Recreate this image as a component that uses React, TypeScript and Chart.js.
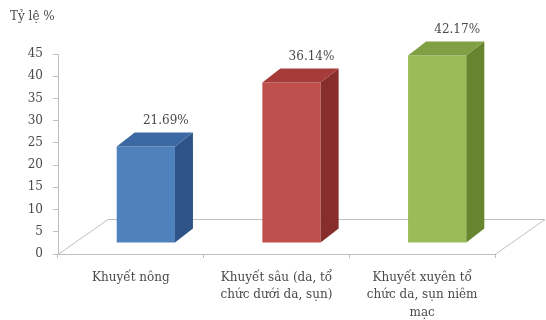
import { useEffect, useRef } from "react";
import { Chart, registerables } from "chart.js";

Chart.register(...registerables);

// Wound depth categories (multi-line axis labels)
const categories: string[][] = [
  ["Khuyết nông"],
  ["Khuyết sâu (da, tổ", "chức dưới da, sụn)"],
  ["Khuyết xuyên tổ", "chức da, sụn niêm", "mạc"],
];
// Percentage for each category
const values: number[] = [21.69, 36.14, 42.17];
const valueLabels: string[] = ["21.69%", "36.14%", "42.17%"];

const axisTitle = "Tỷ lệ %";
const yMin = 0;
const yMax = 45;
const yStep = 5;

// Face colours for the 3D columns
const frontColors = ["#4F81BD", "#C0504D", "#9BBB59"];
const topColors = ["#3C69A3", "#A53C39", "#80A044"];
const sideColors = ["#2E5386", "#872E2C", "#67842F"];

const FONT = "'DejaVu Serif', 'Liberation Serif', serif";
const TEXT = "#4A4A4A";
const LINE = "#BFBFBF";

// Bars sit a little behind the front edge of the floor
const FRONT_DX = 15;
const FRONT_DY = -11;
// Column depth
const DEPTH_DX = 18;
const DEPTH_DY = -14;
// Floor depth
const FLOOR_DX = 50;
const FLOOR_DY = -35;

const column3d = {
  id: "column3d",
  beforeDatasetsDraw(chart: any) {
    const { ctx, chartArea } = chart;
    const { left, right, bottom } = chartArea;
    ctx.save();
    ctx.strokeStyle = LINE;
    ctx.lineWidth = 1;
    ctx.beginPath();
    ctx.moveTo(left, bottom + 0.5);
    ctx.lineTo(left + FLOOR_DX, bottom + FLOOR_DY + 0.5);
    ctx.lineTo(right + FLOOR_DX, bottom + FLOOR_DY + 0.5);
    ctx.lineTo(right, bottom + 0.5);
    ctx.stroke();
    ctx.restore();
    ctx.save();
    ctx.translate(FRONT_DX, FRONT_DY);
  },
  afterDatasetsDraw(chart: any) {
    const { ctx } = chart;
    ctx.restore();
    const meta = chart.getDatasetMeta(0);
    meta.data.forEach((bar: any, i: number) => {
      const { x, y, base, width } = bar.getProps(["x", "y", "base", "width"], true);
      const l = x - width / 2 + FRONT_DX;
      const r = x + width / 2 + FRONT_DX;
      const t = y + FRONT_DY;
      const b = base + FRONT_DY;
      ctx.save();
      // side face
      ctx.fillStyle = sideColors[i];
      ctx.beginPath();
      ctx.moveTo(r, t);
      ctx.lineTo(r + DEPTH_DX, t + DEPTH_DY);
      ctx.lineTo(r + DEPTH_DX, b + DEPTH_DY);
      ctx.lineTo(r, b);
      ctx.closePath();
      ctx.fill();
      // top face
      ctx.fillStyle = topColors[i];
      ctx.beginPath();
      ctx.moveTo(l, t);
      ctx.lineTo(r, t);
      ctx.lineTo(r + DEPTH_DX, t + DEPTH_DY);
      ctx.lineTo(l + DEPTH_DX, t + DEPTH_DY);
      ctx.closePath();
      ctx.fill();
      // value label
      ctx.fillStyle = TEXT;
      ctx.font = `12px ${FONT}`;
      ctx.textAlign = "center";
      ctx.textBaseline = "middle";
      ctx.fillText(valueLabels[i], x + FRONT_DX + DEPTH_DX + 2, t + DEPTH_DY - 12);
      ctx.restore();
    });
  },
  afterDraw(chart: any) {
    const { ctx } = chart;
    ctx.save();
    ctx.fillStyle = TEXT;
    ctx.font = `12px ${FONT}`;
    ctx.textAlign = "left";
    ctx.textBaseline = "middle";
    ctx.fillText(axisTitle, 10, 17);
    ctx.restore();
  },
};

export default function App() {
  const canvasRef = useRef<HTMLCanvasElement | null>(null);

  useEffect(() => {
    const canvas = canvasRef.current;
    if (!canvas) return;
    const chart = new Chart(canvas, {
      type: "bar",
      data: {
        labels: categories,
        datasets: [
          {
            data: values,
            backgroundColor: frontColors,
            borderWidth: 0,
            categoryPercentage: 1,
            barPercentage: 0.4,
          },
        ],
      },
      options: {
        responsive: false,
        animation: false,
        layout: { padding: { top: 54, right: 51, left: 0, bottom: 0 } },
        plugins: {
          legend: { display: false },
          tooltip: { enabled: false },
        },
        scales: {
          x: {
            offset: true,
            grid: {
              offset: true,
              drawOnChartArea: false,
              tickLength: 4,
              color: LINE,
            },
            border: { display: true, color: LINE },
            ticks: {
              color: TEXT,
              font: { family: FONT, size: 12, lineHeight: 1.45 },
              padding: 11,
              maxRotation: 0,
              autoSkip: false,
            },
            afterFit(scale: any) {
              scale.height = 66;
            },
          },
          y: {
            min: yMin,
            max: yMax,
            grid: {
              drawOnChartArea: false,
              tickLength: 5,
              color: LINE,
            },
            border: { display: true, color: LINE },
            ticks: {
              stepSize: yStep,
              color: TEXT,
              font: { family: FONT, size: 12 },
              padding: 10,
            },
            afterFit(scale: any) {
              scale.width = 58;
            },
          },
        },
      },
      plugins: [column3d],
    });
    return () => chart.destroy();
  }, []);

  return (
    <div style={{ position: "absolute", left: 0, top: 0, width: 546, height: 320, background: "#fff" }}>
      <canvas ref={canvasRef} width={546} height={320} />
    </div>
  );
}
